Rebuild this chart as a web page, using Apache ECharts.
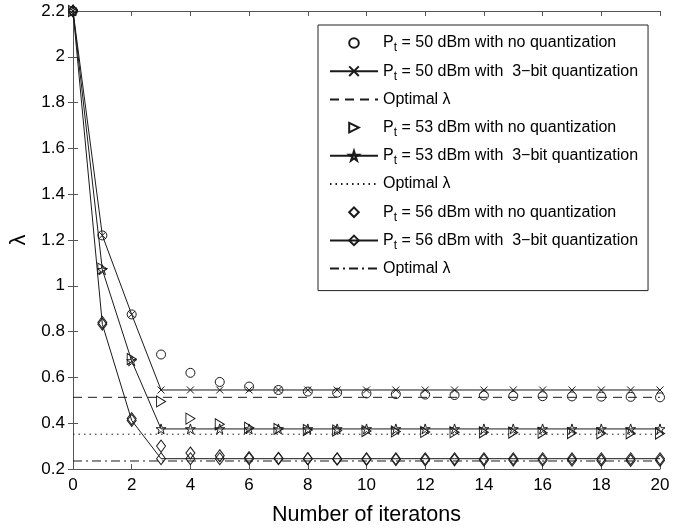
<!DOCTYPE html>
<html><head><meta charset="utf-8">
<script src="https://cdn.jsdelivr.net/npm/echarts@6/dist/echarts.min.js"></script>
<style>html,body{margin:0;padding:0;background:#fff}#c{width:682px;height:531px}</style>
</head><body><div id="c"></div>
<script>
var iters = [0,1,2,3,4,5,6,7,8,9,10,11,12,13,14,15,16,17,18,19,20];
var noq50 = [2.2,1.22,0.875,0.70,0.62,0.58,0.56,0.545,0.538,0.533,0.53,0.527,0.525,0.523,0.521,0.519,0.518,0.517,0.516,0.515,0.513];
var q50   = [2.2,1.22,0.875,0.545,0.545,0.545,0.545,0.545,0.545,0.545,0.545,0.545,0.545,0.545,0.545,0.545,0.545,0.545,0.545,0.545,0.545];
var opt50 = 0.513;
var noq53 = [2.2,1.075,0.68,0.495,0.42,0.395,0.38,0.375,0.37,0.368,0.366,0.364,0.362,0.361,0.36,0.359,0.358,0.357,0.356,0.356,0.355];
var q53   = [2.2,1.07,0.672,0.375,0.375,0.375,0.375,0.375,0.375,0.375,0.375,0.375,0.375,0.375,0.375,0.375,0.375,0.375,0.375,0.375,0.375];
var opt53 = 0.352;
var noq56 = [2.2,0.84,0.42,0.30,0.27,0.258,0.25,0.247,0.245,0.243,0.242,0.241,0.24,0.24,0.239,0.239,0.238,0.238,0.237,0.237,0.237];
var q56   = [2.2,0.832,0.412,0.245,0.245,0.245,0.245,0.245,0.245,0.245,0.245,0.245,0.245,0.245,0.245,0.245,0.245,0.245,0.245,0.245,0.245];
var opt56 = 0.235;
var xTicks = {min:0,max:20,interval:2};
var yTicks = {min:0.2,max:2.2,interval:0.2};

var legendText = {
  noq50:'{a|P}{s|t}{a| = 50 dBm with no quantization}',
  q50:'{a|P}{s|t}{a| = 50 dBm with  3\u2212bit quantization}',
  opt50:'{a|Optimal \u03bb}',
  noq53:'{a|P}{s|t}{a| = 53 dBm with no quantization}',
  q53:'{a|P}{s|t}{a| = 53 dBm with  3\u2212bit quantization}',
  opt53:'{a|Optimal \u03bb}',
  noq56:'{a|P}{s|t}{a| = 56 dBm with no quantization}',
  q56:'{a|P}{s|t}{a| = 56 dBm with  3\u2212bit quantization}',
  opt56:'{a|Optimal \u03bb}'
};
var K = '#1a1a1a';
var FONT = 'Liberation Sans, Arial, sans-serif';
function pts(arr){return iters.map(function(x,i){return [x,arr[i]];});}
function flat(v){return [[iters[0],v],[iters[iters.length-1],v]];}
var XPATH='path://M0,0L10,10M10,0L0,10';
var TRI='path://M0,0L10,5.5L0,11Z';
var STAR='path://M5,0L6.18,3.62L10,3.62L6.91,5.86L8.09,9.51L5,7.27L1.91,9.51L3.09,5.86L0,3.62L3.82,3.62Z';
var mk = {color:'rgba(0,0,0,0)',borderColor:K,borderWidth:1};
function scatter(name,arr,sym,size){
  return {name:name,type:'line',data:pts(arr),symbol:sym,symbolSize:size,showSymbol:true,
    lineStyle:{width:0,opacity:0},itemStyle:mk,z:3,animation:false};
}
function qline(name,arr,sym,size){
  return {name:name,type:'line',data:pts(arr),symbol:sym,symbolSize:size,showSymbol:true,
    lineStyle:{color:K,width:1},itemStyle:mk,z:2,animation:false};
}
function opt(name,v,type){
  return {name:name,type:'line',data:flat(v),symbol:'none',
    lineStyle:{color:K,width:1,type:type},
    itemStyle:{color:'rgba(0,0,0,0)',borderColor:'rgba(0,0,0,0)',borderWidth:0},z:1,animation:false};
}
var series=[
  scatter('noq50',noq50,'circle',9),
  qline('q50',q50,XPATH,7),
  opt('opt50',opt50,[9,6]),
  scatter('noq53',noq53,TRI,[9,11]),
  qline('q53',q53,STAR,10),
  opt('opt53',opt53,[1.5,4]),
  scatter('noq56',noq56,'diamond',[9,12]),
  qline('q56',q56,'diamond',[9,12]),
  opt('opt56',opt56,[9,4,2,4])
];
var axisCommon = {
  axisLine:{show:true,lineStyle:{color:'#555',width:1}},
  axisTick:{show:true,inside:true,length:5,lineStyle:{color:'#555'}},
  splitLine:{show:false}
};
var chart = echarts.init(document.getElementById('c'),null,{renderer:'canvas'});
chart.setOption({
  animation:false,
  backgroundColor:'#fff',
  grid:{left:73,right:22,top:11,bottom:58,containLabel:false},
  xAxis:[
    Object.assign({type:'value',position:'bottom',min:xTicks.min,max:xTicks.max,interval:xTicks.interval,
      name:'Number of iteratons',nameLocation:'middle',nameGap:35,
      nameTextStyle:{color:'#000',fontSize:21.5,fontFamily:FONT},
      axisLabel:{color:'#000',fontSize:17,margin:8,fontFamily:FONT}},axisCommon),
    Object.assign({type:'value',position:'top',min:xTicks.min,max:xTicks.max,interval:xTicks.interval,
      axisLabel:{show:false}},axisCommon)
  ],
  yAxis:[
    Object.assign({type:'value',position:'left',min:yTicks.min,max:yTicks.max,interval:yTicks.interval,
      name:'\u03bb',nameLocation:'middle',nameGap:43,nameRotate:90,
      nameTextStyle:{color:'#000',fontSize:22,fontFamily:FONT},
      axisLabel:{color:'#000',fontSize:17,margin:8,fontFamily:FONT}},axisCommon),
    Object.assign({type:'value',position:'right',min:yTicks.min,max:yTicks.max,interval:yTicks.interval,
      axisLabel:{show:false}},axisCommon)
  ],
  legend:{
    orient:'vertical',left:318,top:25,
    padding:[7,10,11,11],itemGap:6.2,itemWidth:48,itemHeight:12,
    backgroundColor:'#fff',borderColor:'#222',borderWidth:1,borderRadius:0,
    selectedMode:false,
    data:series.map(function(s){return s.name;}),
    formatter:function(n){return legendText[n];},
    textStyle:{color:'#000',fontFamily:FONT,lineHeight:22,
      rich:{a:{fontSize:16,lineHeight:22,color:'#000',fontFamily:FONT},
            s:{fontSize:12,lineHeight:10,verticalAlign:'bottom',color:'#000',fontFamily:FONT}}}
  },
  series:series
});
</script></body></html>
